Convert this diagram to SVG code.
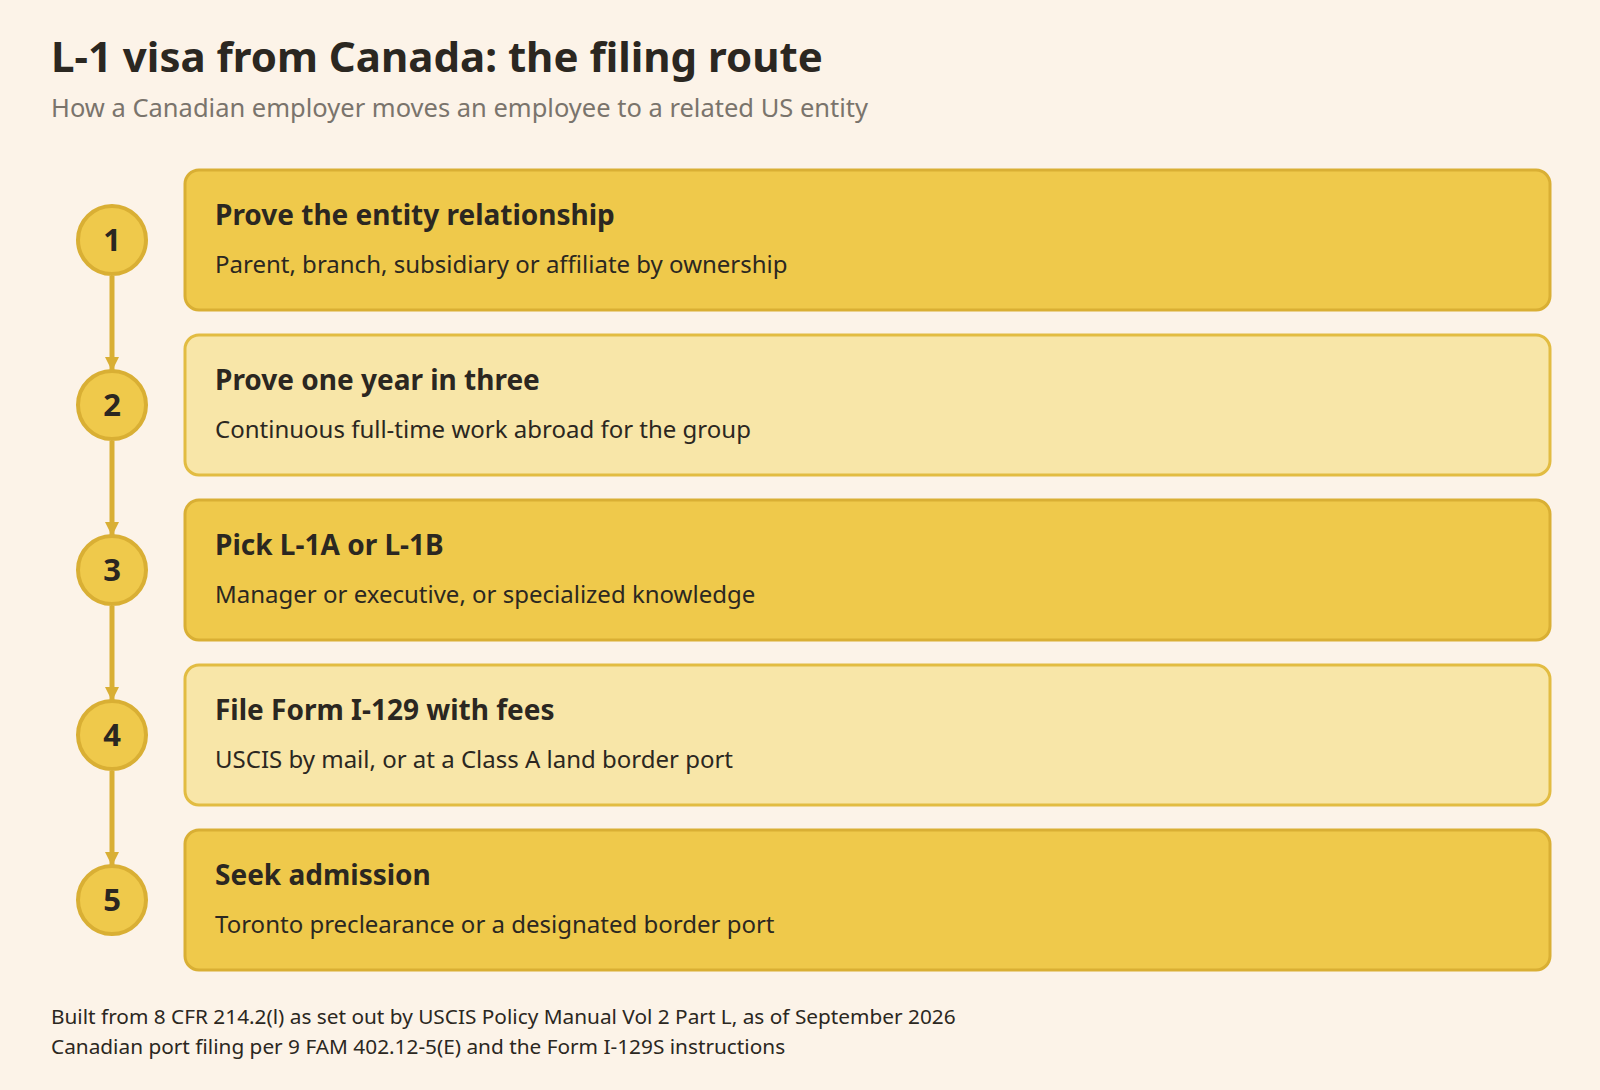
<svg xmlns="http://www.w3.org/2000/svg" width="1600" height="1090" viewBox="0 0 1600 1090">
<defs>
<style>
.bg{fill:#FCF3E8}
.title{font-family:"Noto Sans","Open Sans",sans-serif;font-weight:700;font-size:42px;fill:#2B2721}
.sub{font-family:"Noto Sans","Open Sans",sans-serif;font-size:25.5px;fill:#7A746C}
.box-dark{fill:#EFC94B;stroke:#D9AF34;stroke-width:3}
.box-light{fill:#F8E6A8;stroke:#E2BC42;stroke-width:3}
.h{font-family:"Noto Sans","Open Sans",sans-serif;font-weight:700;font-size:28px;fill:#2B2721}
.d{font-family:"Noto Sans","Open Sans",sans-serif;font-size:24px;fill:#2B2721}
.circ{fill:#EFC94B;stroke:#D9AF34;stroke-width:4}
.num{font-family:"Noto Sans","Open Sans",sans-serif;font-weight:700;font-size:31px;fill:#2B2721;text-anchor:middle}
.conn{stroke:#D9AF34;stroke-width:5;fill:none}
.foot{font-family:"Noto Sans","Open Sans",sans-serif;font-size:20.8px;fill:#2B2721}
</style>
<marker id="arr" viewBox="0 0 14 14" refX="13" refY="7" markerWidth="14" markerHeight="14" markerUnits="userSpaceOnUse" orient="auto">
<path d="M0,0 L14,7 L0,14 Z" fill="#D9AF34"/>
</marker>
</defs>
<rect class="bg" x="0" y="0" width="1600" height="1090"/>
<text class="title" x="51" y="72">L-1 visa from Canada: the filing route</text>
<text class="sub" x="51" y="117">How a Canadian employer moves an employee to a related US entity</text>

<g id="connectors">
<line class="conn" x1="112" y1="276" x2="112" y2="370" marker-end="url(#arr)"/>
<line class="conn" x1="112" y1="441" x2="112" y2="535" marker-end="url(#arr)"/>
<line class="conn" x1="112" y1="606" x2="112" y2="700" marker-end="url(#arr)"/>
<line class="conn" x1="112" y1="771" x2="112" y2="865" marker-end="url(#arr)"/>
</g>

<g id="step1">
<rect class="box-dark" x="185" y="170" width="1365" height="140" rx="14"/>
<text class="h" x="215" y="225">Prove the entity relationship</text>
<text class="d" x="215" y="273">Parent, branch, subsidiary or affiliate by ownership</text>
<circle class="circ" cx="112" cy="240" r="34"/>
<text class="num" x="112" y="251">1</text>
</g>
<g id="step2">
<rect class="box-light" x="185" y="335" width="1365" height="140" rx="14"/>
<text class="h" x="215" y="390">Prove one year in three</text>
<text class="d" x="215" y="438">Continuous full-time work abroad for the group</text>
<circle class="circ" cx="112" cy="405" r="34"/>
<text class="num" x="112" y="416">2</text>
</g>
<g id="step3">
<rect class="box-dark" x="185" y="500" width="1365" height="140" rx="14"/>
<text class="h" x="215" y="555">Pick L-1A or L-1B</text>
<text class="d" x="215" y="603">Manager or executive, or specialized knowledge</text>
<circle class="circ" cx="112" cy="570" r="34"/>
<text class="num" x="112" y="581">3</text>
</g>
<g id="step4">
<rect class="box-light" x="185" y="665" width="1365" height="140" rx="14"/>
<text class="h" x="215" y="720">File Form I-129 with fees</text>
<text class="d" x="215" y="768">USCIS by mail, or at a Class A land border port</text>
<circle class="circ" cx="112" cy="735" r="34"/>
<text class="num" x="112" y="746">4</text>
</g>
<g id="step5">
<rect class="box-dark" x="185" y="830" width="1365" height="140" rx="14"/>
<text class="h" x="215" y="885">Seek admission</text>
<text class="d" x="215" y="933">Toronto preclearance or a designated border port</text>
<circle class="circ" cx="112" cy="900" r="34"/>
<text class="num" x="112" y="911">5</text>
</g>

<text class="foot" x="51" y="1024">Built from 8 CFR 214.2(l) as set out by USCIS Policy Manual Vol 2 Part L, as of September 2026</text>
<text class="foot" x="51" y="1054">Canadian port filing per 9 FAM 402.12-5(E) and the Form I-129S instructions</text>
</svg>
